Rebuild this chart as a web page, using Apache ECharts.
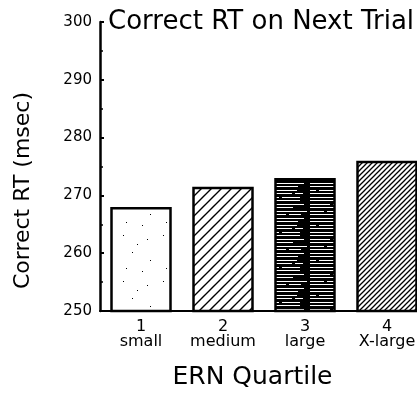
<!DOCTYPE html>
<html>
<head>
<meta charset="utf-8">
<script src="https://cdn.jsdelivr.net/npm/echarts@6/dist/echarts.min.js"></script>
<style>
  html, body { margin: 0; padding: 0; background: #fff; }
  #chart { width: 417px; height: 397px; }
</style>
</head>
<body>
<div id="chart"></div>
<script>
// ERN quartile categories and mean correct RT on the following trial (msec)
const quartileNumbers = ['1', '2', '3', '4'];
const quartileNames = ['small', 'medium', 'large', 'X-large'];
const correctRT = [268, 271.5, 273, 276];
const yTicks = [250, 260, 270, 280, 290, 300];

const FONT = 'DejaVu Sans';

// Fill patterns for the four bars, drawn into small tiles
function makeTile(w, h, draw) {
  const c = document.createElement('canvas');
  c.width = w; c.height = h;
  const g = c.getContext('2d');
  draw(g, w, h);
  return c;
}

// sparse stipple
const stippleTile = makeTile(40, 46, (g, w, h) => {
  g.fillStyle = '#fff'; g.fillRect(0, 0, w, h);
  g.fillStyle = '#000';
  [[3, 5], [27, 9], [12, 22], [30, 30], [6, 38], [22, 41], [17, 14]].forEach(p => g.fillRect(p[0], p[1], 1, 1));
});

// wide diagonal hatch
const wideHatchTile = makeTile(10, 10, (g, w, h) => {
  g.fillStyle = '#fff'; g.fillRect(0, 0, w, h);
  g.strokeStyle = '#000'; g.lineWidth = 1.4;
  g.beginPath();
  g.moveTo(-1, h + 1); g.lineTo(w + 1, -1);
  g.moveTo(-1, 1); g.lineTo(1, -1);
  g.moveTo(w - 1, h + 1); g.lineTo(w + 1, h - 1);
  g.stroke();
});

// black fill with broken white horizontal rules
const ruledTile = makeTile(62, 35, (g, w, h) => {
  g.fillStyle = '#000'; g.fillRect(0, 0, w, h);
  g.fillStyle = '#fff';
  [[0, 1, 14], [17, 1, 42],
   [0, 4, 38], [41, 4, 12],
   [0, 8, 25], [28, 8, 28],
   [0, 11, 50],
   [0, 15, 6], [9, 15, 40],
   [0, 18, 44], [47, 18, 8],
   [0, 22, 31], [34, 22, 18],
   [0, 25, 52],
   [0, 29, 20], [23, 29, 33],
   [0, 32, 45]].forEach(r => g.fillRect(r[0], r[1], r[2], 1));
});

// dense diagonal hatch
const denseHatchTile = makeTile(5, 5, (g, w, h) => {
  g.fillStyle = '#fff'; g.fillRect(0, 0, w, h);
  g.strokeStyle = '#000'; g.lineWidth = 1.3;
  g.beginPath();
  g.moveTo(-1, h + 1); g.lineTo(w + 1, -1);
  g.moveTo(-1, 1); g.lineTo(1, -1);
  g.moveTo(w - 1, h + 1); g.lineTo(w + 1, h - 1);
  g.stroke();
});

const tiles = [stippleTile, wideHatchTile, ruledTile, denseHatchTile];

const chart = echarts.init(document.getElementById('chart'), null, { renderer: 'canvas' });

chart.setOption({
  animation: false,
  backgroundColor: '#fff',
  title: {
    text: 'Correct RT on Next Trial',
    left: 103,
    top: 4,
    textStyle: { fontFamily: FONT, fontSize: 26, fontWeight: 'normal', color: '#000' }
  },
  grid: { left: 100, right: -11, top: 22, bottom: 86, outerBoundsMode: 'none', containLabel: false },
  xAxis: {
    type: 'category',
    data: quartileNumbers.map((n, i) => n + '\n' + quartileNames[i]),
    name: 'ERN Quartile',
    nameLocation: 'middle',
    nameGap: 54,
    nameTextStyle: { fontFamily: FONT, fontSize: 25, color: '#000', padding: [0, 23, 0, 0] },
    axisLine: { lineStyle: { color: '#000', width: 2 } },
    axisTick: { show: false },
    axisLabel: { interval: 0, fontFamily: FONT, fontSize: 16, color: '#000', lineHeight: 15, margin: 8 }
  },
  yAxis: {
    type: 'value',
    min: yTicks[0],
    max: yTicks[yTicks.length - 1],
    interval: 10,
    name: 'Correct RT (msec)',
    nameLocation: 'middle',
    nameGap: 66,
    nameTextStyle: { fontFamily: FONT, fontSize: 22, color: '#000', padding: [0, 48, 0, 0] },
    axisLine: { show: true, lineStyle: { color: '#000', width: 2.5 } },
    axisTick: { show: true, inside: true, length: 4, lineStyle: { color: '#000', width: 2 } },
    minorTick: { show: true, splitNumber: 2, length: 3, lineStyle: { color: '#000', width: 1.5 } },
    splitLine: { show: false },
    axisLabel: { fontFamily: FONT, fontSize: 15, color: '#000', margin: 8 }
  },
  series: [{
    type: 'bar',
    barWidth: '75%',
    data: correctRT.map((v, i) => ({
      value: v,
      itemStyle: {
        color: { image: tiles[i], repeat: 'repeat' },
        borderColor: '#000',
        borderWidth: 2.5
      }
    }))
  }]
});
</script>
</body>
</html>
